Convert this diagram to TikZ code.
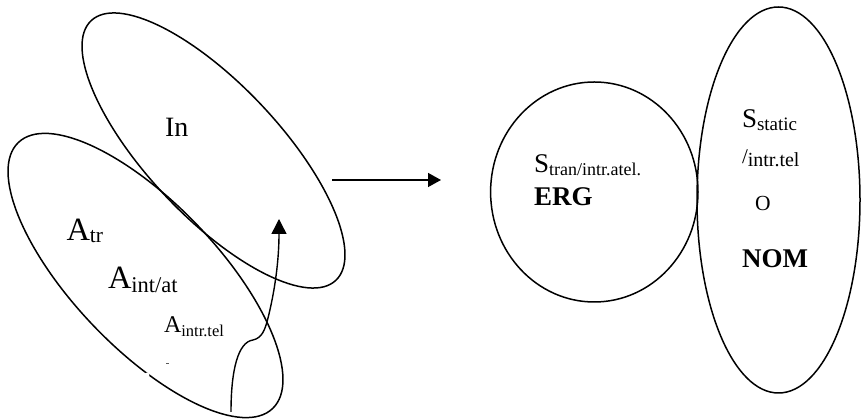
\documentclass[tikz,border=0pt]{standalone}
\usepackage{fontspec}
\setmainfont{Liberation Serif}
\usetikzlibrary{shapes.geometric,arrows.meta}

% base text at a given size, and a lowered subscript at a given size
\newcommand{\fs}[2]{{\fontsize{#1}{#1}\selectfont #2}}
\newcommand{\lowsub}[3]{\raisebox{-#2pt}{\fontsize{#1}{#1}\selectfont #3}}

\begin{document}
\begin{tikzpicture}[x=1pt,y=1pt,
  set/.style={draw, ellipse, line width=1.5pt, inner sep=0pt},
  lbl/.style={anchor=base west, inner sep=0pt, outer sep=0pt},
  conn/.style={line width=1.4pt},
]
\useasboundingbox (0,0) rectangle (862,419);

% two overlapping tilted sets on the left
\node[set, minimum width=368pt, minimum height=144.6pt, rotate=-46.3] (argset) at (145.5,143.5) {};
\node[set, minimum width=356.8pt, minimum height=132.2pt, rotate=-46.7] (inset) at (213.5,268.5) {};

% small break in the lower left outline and a stray mark
\fill[white] (147,44) circle (2.4pt);
\fill[black!65] (165.5,54.6) rectangle (168.5,55.6);

% sets on the right
\node[set, minimum width=207.4pt, minimum height=220pt] (ergset) at (594.3,227) {};
\node[set, minimum width=163pt, minimum height=386pt] (nomset) at (778.5,219) {};

% labels, left
\node[lbl] (lin) at (165,282) {\fs{28}{In}};
\node[lbl] (latr) at (66.5,178) {\fs{32.5}{A}\lowsub{21.5}{2}{tr}};
\node[lbl] (laint) at (108,130) {\fs{32.5}{A}\lowsub{22.5}{4}{int/at}};
\node[lbl] (lainl) at (164,86) {\fs{24}{A}\lowsub{16.5}{4}{intr.tel}};

% labels, right
\node[lbl] (lstr) at (534,246) {\fs{27}{S}\lowsub{18}{3}{tran/intr.atel.}};
\node[lbl] (lerg) at (534,213) {\fs{27}{\bfseries ERG}};
\node[lbl] (lsst) at (742,291) {\fs{27}{S}\lowsub{19}{3}{static}};
\node[lbl] (lsit) at (742,252) {\raisebox{3pt}{\fs{21}{/}}\fs{20}{intr.tel}};
\node[lbl] (lo) at (755,208) {\fs{21.5}{O}};
\node[lbl] (lnom) at (742,151) {\fs{27}{\bfseries NOM}};

% horizontal arrow
\coordinate (hs) at (332,239);
\coordinate (he) at (441,239);
\draw[conn, -{Triangle[length=13pt,width=14pt]}] (hs) -- (he);

% curved arrow rising from the bottom of the left set into the upper set
\coordinate (cs) at (231,7);
\coordinate (ck) at (253,79);
\coordinate (cm) at (268,101);
\coordinate (ce) at (279,200);
\draw[conn, -{Triangle[length=15pt,width=15pt]}]
  (cs) .. controls (231,49) and (238,77) .. (ck)
       .. controls (262,81) and (265,89) .. (cm)
       .. controls (275,129) and (279,159) .. (ce);
\end{tikzpicture}
\end{document}
